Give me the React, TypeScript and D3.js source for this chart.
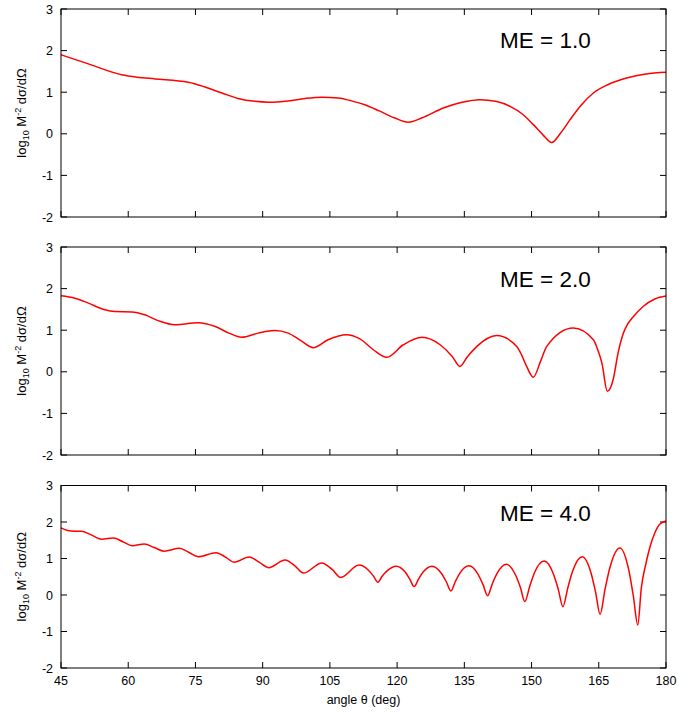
import React from "react";
import * as d3 from "d3";

// ---- data ----
const xTicks = [45, 60, 75, 90, 105, 120, 135, 150, 165, 180];
const yTicks = [-2, -1, 0, 1, 2, 3];
const panelLabels = ["ME = 1.0", "ME = 2.0", "ME = 4.0"];

const me1Angle = [45, 51.1, 58.5, 62, 66, 73.4, 77, 80.9, 84.5, 88.3, 91.3, 95.7, 99.5, 103.2, 106.9, 109.5, 112.8, 116, 119.5, 122.5, 125.5, 130.3, 134.5, 138.5, 142, 145.2, 148, 150.4, 152.5, 154.5, 156.5, 158.6, 161, 163.8, 167, 171.2, 175.5, 180];
const me1Value = [1.9, 1.68, 1.42, 1.36, 1.32, 1.24, 1.13, 0.98, 0.85, 0.78, 0.76, 0.79, 0.85, 0.88, 0.86, 0.8, 0.7, 0.55, 0.38, 0.28, 0.38, 0.62, 0.76, 0.82, 0.78, 0.66, 0.47, 0.22, -0.02, -0.21, 0.02, 0.34, 0.68, 0.98, 1.18, 1.34, 1.44, 1.48];

const me2Angle = [45, 48.1, 51.1, 54.8, 57, 60.8, 63.7, 66.7, 70.4, 75.6, 79.4, 82.5, 85.3, 89, 92.7, 95.7, 98.5, 101.3, 104.6, 108.7, 111.7, 114.7, 117.7, 121.4, 125.5, 129.6, 132.3, 134, 135.6, 137.8, 142.2, 146.7, 147.8, 148.9, 150.4, 152, 153.4, 159.3, 163.8, 164.8, 165.7, 166.9, 168.2, 169.3, 170.5, 171.4, 172.5, 174.9, 177.5, 180];
const me2Value = [1.83, 1.77, 1.65, 1.49, 1.45, 1.44, 1.37, 1.23, 1.13, 1.18, 1.09, 0.93, 0.83, 0.93, 0.99, 0.93, 0.75, 0.58, 0.77, 0.89, 0.79, 0.53, 0.35, 0.65, 0.83, 0.65, 0.37, 0.13, 0.35, 0.61, 0.87, 0.61, 0.4, 0.13, -0.13, 0.25, 0.61, 1.05, 0.77, 0.52, 0.21, -0.47, -0.19, 0.45, 0.93, 1.14, 1.3, 1.57, 1.75, 1.82];

const me4Angle = [45, 46.5, 48, 49.6, 51.5, 54.1, 56.7, 58.8, 60.9, 63.6, 65.8, 68, 71.4, 73.5, 75.6, 79.6, 81.7, 83.6, 87, 89.2, 91.3, 95, 97.2, 99.1, 103.2, 105.5, 107.4, 111.5, 113.6, 114.65, 115.7, 116.7, 117.75, 119.8, 121.8, 122.8, 123.8, 124.8, 125.8, 127.8, 129.9, 130.95, 132, 133, 134, 136, 138.1, 139.15, 140.2, 141.25, 142.3, 144.4, 146.45, 147.5, 148.5, 149.6, 150.65, 152.8, 154.9, 155.95, 157, 158.1, 159.15, 161.3, 163.3, 164.3, 165.3, 166.4, 167.5, 169.7, 171.7, 172.7, 173.7, 174.5, 175.5, 176.5, 177.5, 178.7, 180];
const me4Value = [1.84, 1.77, 1.75, 1.75, 1.66, 1.53, 1.56, 1.46, 1.35, 1.4, 1.3, 1.2, 1.28, 1.17, 1.05, 1.16, 1.04, 0.9, 1.04, 0.9, 0.75, 0.96, 0.8, 0.6, 0.88, 0.7, 0.48, 0.82, 0.68, 0.53, 0.35, 0.52, 0.66, 0.79, 0.63, 0.44, 0.23, 0.44, 0.63, 0.79, 0.59, 0.37, 0.11, 0.37, 0.6, 0.8, 0.56, 0.29, -0.02, 0.31, 0.59, 0.84, 0.54, 0.21, -0.18, 0.24, 0.61, 0.93, 0.57, 0.16, -0.32, 0.2, 0.65, 1.05, 0.59, 0.07, -0.53, 0.16, 0.76, 1.29, 0.68, -0.02, -0.82, 0.2, 0.85, 1.35, 1.7, 1.95, 2.03];

const seriesAngles = [me1Angle, me2Angle, me4Angle];
const seriesValues = [me1Value, me2Value, me4Value];

// ---- layout ----
const W = 679;
const H = 717;
const left = 61;
const right = 666;
const panels = [
  { top: 9, bottom: 217, labelY: 48.3 },
  { top: 247, bottom: 455, labelY: 286.7 },
  { top: 485.5, bottom: 668, labelY: 520.7 },
];
const font = "'Liberation Sans', Arial, Helvetica, sans-serif";
const tickLen = 6;

export default function App() {
  const x = d3.scaleLinear().domain([45, 180]).range([left, right]);
  return (
    <svg
      width={W}
      height={H}
      style={{ position: "absolute", left: 0, top: 0, background: "#fff" }}
      fontFamily={font}
    >
      <rect x={0} y={0} width={W} height={H} fill="#fff" />
      {panels.map((p, i) => {
        const y = d3.scaleLinear().domain([-2, 3]).range([p.bottom, p.top]);
        const pts: [number, number][] = seriesAngles[i].map((a, k) => [a, seriesValues[i][k]]);
        const line = d3
          .line<[number, number]>()
          .x((d) => x(d[0]))
          .y((d) => y(d[1]))
          .curve(d3.curveMonotoneX);
        const cy = (p.top + p.bottom) / 2;
        return (
          <g key={i}>
            {xTicks.map((t) => (
              <g key={"xt" + t} stroke="#000" strokeWidth={1}>
                <line x1={x(t)} x2={x(t)} y1={p.bottom} y2={p.bottom - tickLen} />
                <line x1={x(t)} x2={x(t)} y1={p.top} y2={p.top + tickLen} />
              </g>
            ))}
            {yTicks.map((t) => (
              <g key={"yt" + t}>
                <line x1={left} x2={left + tickLen} y1={y(t)} y2={y(t)} stroke="#000" />
                <line x1={right} x2={right - tickLen} y1={y(t)} y2={y(t)} stroke="#000" />
                <text
                  x={53}
                  y={y(t)}
                  dy="0.36em"
                  textAnchor="end"
                  fontSize={12.5}
                  fill="#000"
                >
                  {t}
                </text>
              </g>
            ))}
            <path d={line(pts) || ""} fill="none" stroke="#ff0000" strokeWidth={1.5} />
            <rect
              x={left}
              y={p.top}
              width={right - left}
              height={p.bottom - p.top}
              fill="none"
              stroke="#000"
              strokeWidth={1}
            />
            <text x={500} y={p.labelY} fontSize={22.5} fill="#000">
              {panelLabels[i]}
            </text>
            <text
              transform={`translate(26,${cy}) rotate(-90)`}
              textAnchor="middle"
              fontSize={13}
              fill="#000"
            >
              log
              <tspan dy={3} fontSize={9}>10</tspan>
              <tspan dy={-3}> M</tspan>
              <tspan dy={-5} fontSize={9}>-2</tspan>
              <tspan dy={5}> dσ/dΩ</tspan>
            </text>
          </g>
        );
      })}
      {xTicks.map((t) => (
        <text key={"xl" + t} x={x(t)} y={685} textAnchor="middle" fontSize={12.5} fill="#000">
          {t}
        </text>
      ))}
      <text x={(left + right) / 2} y={704} textAnchor="middle" fontSize={12.5} fill="#000">
        angle θ (deg)
      </text>
    </svg>
  );
}
